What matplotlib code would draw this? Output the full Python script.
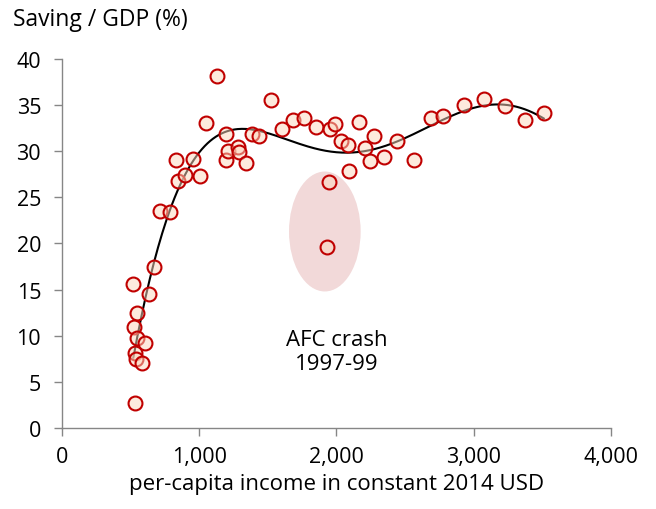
import numpy as np
import matplotlib
matplotlib.use("Agg")
import matplotlib.pyplot as plt
from matplotlib.patches import Ellipse
from matplotlib.ticker import FuncFormatter

plt.rcParams['font.family'] = ['Open Sans', 'DejaVu Sans']

# per-capita income (constant 2014 USD) and saving / GDP (%)
income = [520, 636, 670, 544, 525, 549, 605, 532, 539, 581, 530,
          714, 787, 845, 896, 1005, 831, 952, 1047, 1127, 1193, 1193,
          1212, 1280, 1290, 1341, 1382, 1438, 1520, 1604, 1683, 1763,
          1848, 1953, 1991, 2033, 2084, 2093, 2164, 2208, 2244, 2273,
          2344, 2443, 2565, 2689, 2778, 2929, 3075, 3228, 3373, 3510,
          1943, 1928]
saving = [15.6, 14.5, 17.5, 12.5, 11.0, 9.8, 9.2, 8.1, 7.5, 7.1, 2.7,
          23.5, 23.4, 26.8, 27.4, 27.3, 29.1, 29.2, 33.1, 38.2, 31.9, 29.1,
          30.0, 30.5, 29.9, 28.7, 31.9, 31.7, 35.6, 32.4, 33.4, 33.6,
          32.6, 32.4, 33.0, 31.1, 30.7, 27.9, 33.2, 30.3, 28.9, 31.7,
          29.4, 31.1, 29.1, 33.6, 33.8, 35.0, 35.7, 34.9, 33.4, 34.1,
          26.7, 19.6]

# crash years highlight
crash_center = (1915, 21.3)
crash_size = (522, 13.0)

x = np.array(income, dtype=float)
y = np.array(saving)

fig = plt.figure(figsize=(6.56, 5.10), dpi=100)
ax = fig.add_axes([0.0945, 0.1588, 0.8369, 0.7236])

ell = Ellipse(crash_center, crash_size[0], crash_size[1],
              facecolor='#f2d9d9', edgecolor='none', zorder=1)
ax.add_patch(ell)

# polynomial trendline through the data
coef = np.polyfit(x / 1000, y, 6)
xs = np.linspace(x.min(), x.max(), 300)
ax.plot(xs, np.polyval(coef, xs / 1000), color='black', lw=1.5, zorder=2)

ax.scatter(x, y, s=100, facecolor=(0.99, 0.84, 0.74, 0.5),
           edgecolor='#c00000', linewidth=1.5, zorder=3)

ax.text(2000, 8.3, 'AFC crash\n1997-99', ha='center', va='center',
        fontsize=16, linespacing=1.2)

ax.set_xlim(0, 4000)
ax.set_ylim(0, 40)
ax.set_xticks([0, 1000, 2000, 3000, 4000])
ax.set_yticks(range(0, 41, 5))
ax.xaxis.set_major_formatter(FuncFormatter(lambda v, p: f'{int(v):,}'))

for s in ['top', 'right']:
    ax.spines[s].set_visible(False)
for s in ['left', 'bottom']:
    ax.spines[s].set_color('#868686')
    ax.spines[s].set_linewidth(1.0)
ax.tick_params(colors='#868686', labelcolor='black', labelsize=15.5,
               length=6, width=1.0)
ax.tick_params(axis='y', pad=9)
ax.tick_params(axis='x', pad=7)

fig.text(0.020, 0.949, 'Saving / GDP (%)', fontsize=16.5, va='baseline', ha='left')
fig.text(0.5137, 0.040, 'per-capita income in constant 2014 USD', fontsize=16,
         va='baseline', ha='center')

fig.savefig('out.png', dpi=100)
